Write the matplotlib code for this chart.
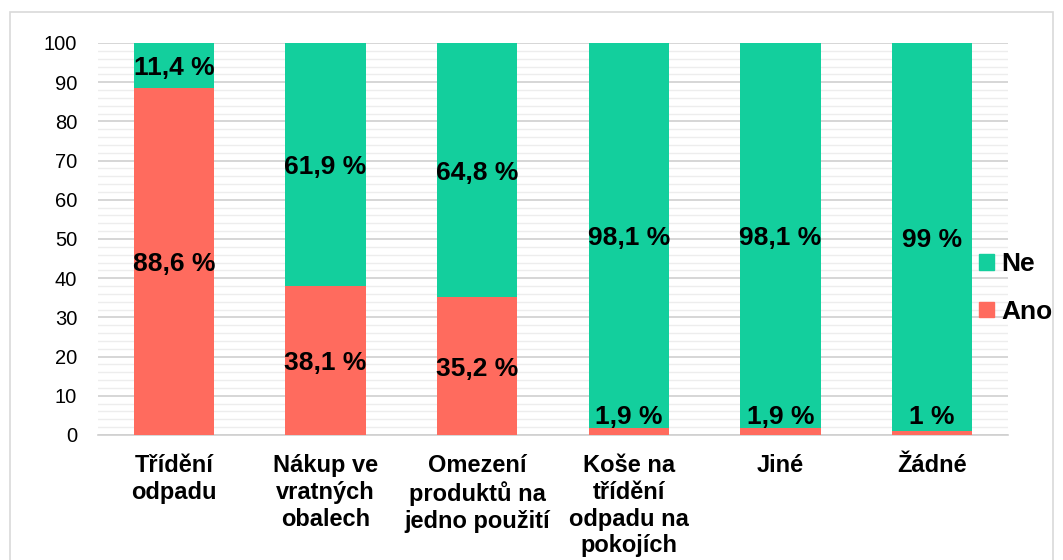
import matplotlib.pyplot as plt
from matplotlib.patches import Rectangle
import numpy as np

categories = ["Třídění\nodpadu", "Nákup ve\nvratných\nobalech", "Omezení\nproduktů na\njedno použití",
              "Koše na\ntřídění\nodpadu na\npokojích", "Jiné", "Žádné"]
ano = [88.6, 38.1, 35.2, 1.9, 1.9, 1.0]
ne = [11.4, 61.9, 64.8, 98.1, 98.1, 99.0]
ano_labels = ["88,6 %", "38,1 %", "35,2 %", "1,9 %", "1,9 %", "1 %"]
ne_labels = ["11,4 %", "61,9 %", "64,8 %", "98,1 %", "98,1 %", "99 %"]

green = "#13CF9D"
red = "#FF6B5E"

plt.rcParams['font.family'] = ['Liberation Sans', 'DejaVu Sans']

fig = plt.figure(figsize=(10.63, 5.6), dpi=100)
ax = fig.add_axes([98/1063, 1-435/560, (1008-98)/1063, (435-43)/560])

# outer frame
fig.patches.append(Rectangle((10/1063, -0.05), (1053-10)/1063, 1.05-12/560,
                             transform=fig.transFigure, fill=False, ec="#D9D9D9", lw=1.2))

x = np.arange(len(categories))
w = 0.53
ax.bar(x, ano, w, color=red, zorder=3)
ax.bar(x, ne, w, bottom=ano, color=green, zorder=3)

for i in range(len(x)):
    ya = ano[i] / 2 if ano[i] > 5 else 5.4
    ax.text(x[i], ya - 0.8, ano_labels[i], ha="center", va="center", fontsize=19, fontweight="bold", zorder=4)
    ax.text(x[i], ano[i] + ne[i] / 2 - 0.8, ne_labels[i], ha="center", va="center", fontsize=19,
            fontweight="bold", zorder=4)

ax.set_xlim(-0.5, 5.5)
ax.set_ylim(0, 100)
ax.set_yticks(np.arange(0, 101, 10))
ax.set_yticks(np.arange(0, 101, 2), minor=True)
ax.grid(axis="y", which="major", color="#D0D0D0", lw=1.2, zorder=0)
ax.grid(axis="y", which="minor", color="#EDEDED", lw=1.0, zorder=0)
ax.tick_params(axis="y", which="both", length=0, labelsize=14.5, pad=15)
ax.tick_params(axis="x", length=0, labelsize=17, pad=14)
ax.set_xticks(x)
ax.set_xticklabels(categories, fontweight="bold", linespacing=1.2, va="top")
for s in ["top", "right", "left"]:
    ax.spines[s].set_visible(False)
ax.spines["bottom"].set_color("#D0D0D0")
ax.spines["bottom"].set_linewidth(1.2)

handles = [Rectangle((0, 0), 1, 1, color=green), Rectangle((0, 0), 1, 1, color=red)]
fig.legend(handles, ["Ne", "Ano"], loc="center left", bbox_to_anchor=(979/1063, 1-288/560),
           frameon=False, borderpad=0, borderaxespad=0, prop={"weight": "bold", "size": 19},
           handlelength=0.55, handleheight=0.55, handletextpad=0.3, labelspacing=0.9)

fig.savefig("out.png", dpi=100)
